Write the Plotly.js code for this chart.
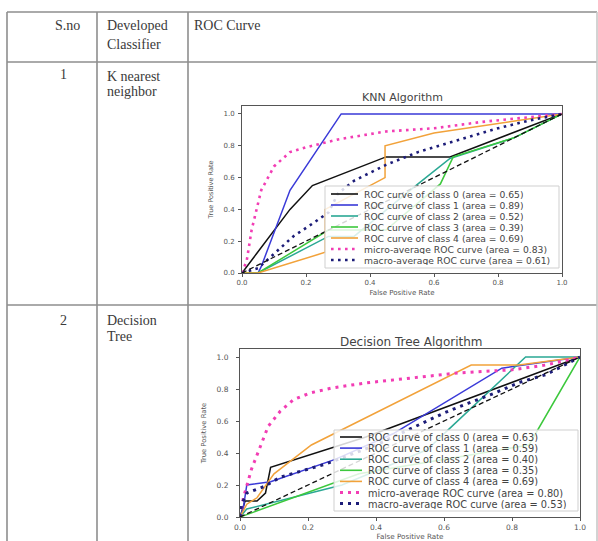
<!DOCTYPE html>
<html>
<head>
<meta charset="utf-8">
<script src="https://cdn.plot.ly/plotly-3.0.1.min.js"></script>
<style>html,body{margin:0;padding:0;background:#fff;}#chart{width:598px;height:541px;}</style>
</head>
<body>
<div id="chart"></div>
<script>
// ---------------- DATA ----------------
const tableHeaders = ["S.no", "Developed", "Classifier", "ROC Curve"];
const rowNumbers = ["1", "2"];
const rowClassifierLines = [["K nearest", "neighbor"], ["Decision", "Tree"]];
const plotTitles = ["KNN Algorithm", "Decision Tree Algorithm"];
const xAxisTitle = "False Positive Rate";
const yAxisTitle = "True Positive Rate";
const tickValues = [0, 0.2, 0.4, 0.6, 0.8, 1.0];

const seriesNames = ["ROC curve of class 0", "ROC curve of class 1", "ROC curve of class 2",
  "ROC curve of class 3", "ROC curve of class 4", "micro-average ROC curve", "macro-average ROC curve"];
const knnAreas = ["0.65", "0.89", "0.52", "0.39", "0.69", "0.83", "0.61"];
const dtAreas  = ["0.63", "0.59", "0.40", "0.35", "0.69", "0.80", "0.53"];

// KNN curves
const knnC0x = [0, 0.15, 0.22, 0.45, 0.65, 1.0];
const knnC0y = [0, 0.40, 0.55, 0.73, 0.73, 1.0];
const knnC1x = [0, 0.05, 0.06, 0.15, 0.31, 1.0];
const knnC1y = [0, 0.00, 0.04, 0.52, 1.00, 1.0];
const knnC2x = [0, 0.05, 0.27, 0.35, 0.55, 0.65, 0.85, 1.0];
const knnC2y = [0, 0.00, 0.23, 0.23, 0.56, 0.72, 0.85, 1.0];
const knnC3x = [0, 0.05, 0.27, 0.45, 0.62, 0.66, 0.85, 1.0];
const knnC3y = [0, 0.00, 0.27, 0.27, 0.56, 0.73, 0.85, 1.0];
const knnC4x = [0, 0.05, 0.26, 0.26, 0.447, 0.447, 0.60, 1.0];
const knnC4y = [0, 0.00, 0.13, 0.40, 0.60, 0.80, 0.88, 1.0];
const knnMicroX = [0, 0.015, 0.03, 0.06, 0.10, 0.15, 0.20, 0.30, 0.45, 0.60, 0.75, 0.90, 1.0];
const knnMicroY = [0, 0.08, 0.27, 0.52, 0.67, 0.76, 0.79, 0.84, 0.89, 0.91, 0.95, 0.98, 1.0];
const knnMacroX = [0, 0.05, 0.10, 0.16, 0.22, 0.27, 0.30, 0.35, 0.45, 0.55, 0.65, 0.80, 0.90, 1.0];
const knnMacroY = [0, 0.03, 0.12, 0.23, 0.31, 0.38, 0.50, 0.58, 0.68, 0.76, 0.82, 0.91, 0.96, 1.0];

// Decision tree curves
const dtC0x = [0, 0.015, 0.05, 0.075, 0.09, 0.37, 1.0];
const dtC0y = [0, 0.10, 0.10, 0.15, 0.31, 0.50, 1.0];
const dtC1x = [0, 0.01, 0.02, 0.09, 0.28, 0.45, 0.77, 1.0];
const dtC1y = [0, 0.06, 0.20, 0.22, 0.36, 0.52, 0.93, 1.0];
const dtC2x = [0, 0.02, 0.30, 0.55, 0.62, 0.84, 1.0];
const dtC2y = [0, 0.05, 0.20, 0.42, 0.56, 1.00, 1.0];
const dtC3x = [0, 0.35, 0.85, 1.0];
const dtC3y = [0, 0.27, 0.45, 1.0];
const dtC4x = [0, 0.02, 0.05, 0.10, 0.21, 0.68, 0.82, 1.0];
const dtC4y = [0, 0.08, 0.12, 0.27, 0.45, 0.95, 0.95, 1.0];
const dtMicroX = [0, 0.01, 0.034, 0.059, 0.083, 0.118, 0.157, 0.206, 0.27, 0.37, 0.51, 0.64, 0.80, 0.90, 1.0];
const dtMicroY = [0, 0.12, 0.30, 0.44, 0.567, 0.66, 0.733, 0.775, 0.806, 0.838, 0.87, 0.90, 0.92, 0.95, 1.0];
const dtMacroX = [0, 0.005, 0.02, 0.07, 0.12, 0.20, 0.25, 0.40, 0.53, 0.60, 0.67, 0.75, 0.82, 0.90, 1.0];
const dtMacroY = [0, 0.08, 0.15, 0.19, 0.25, 0.30, 0.33, 0.45, 0.58, 0.65, 0.71, 0.775, 0.84, 0.89, 1.0];

const diagX = [0, 1];
const diagY = [0, 1];

// ---------------- STYLE ----------------
const W = 598, H = 541;
const px = v => v / W;
const py = v => 1 - v / H;
const colors = ["#111111", "#3a3ad8", "#2aa894", "#3cc83c", "#f2a23a", "#f23db4", "#1c1c78"];
const FONT = "DejaVu Sans";
const SERIF = "Liberation Serif, Times New Roman, serif";

const knnSets = [[knnC0x, knnC0y], [knnC1x, knnC1y], [knnC2x, knnC2y], [knnC3x, knnC3y], [knnC4x, knnC4y], [knnMicroX, knnMicroY], [knnMacroX, knnMacroY]];
const dtSets = [[dtC0x, dtC0y], [dtC1x, dtC1y], [dtC2x, dtC2y], [dtC3x, dtC3y], [dtC4x, dtC4y], [dtMicroX, dtMicroY], [dtMacroX, dtMacroY]];

function buildTraces(sets, xa, ya, dotW, dotDash) {
  const tr = [];
  sets.forEach((s, i) => {
    const dotted = i >= 5;
    tr.push({
      type: "scatter", mode: "lines", x: s[0], y: s[1], xaxis: xa, yaxis: ya,
      hoverinfo: "skip",
      line: dotted ? {color: colors[i], width: dotW, dash: dotDash} : {color: colors[i], width: 1.5}
    });
  });
  tr.push({type: "scatter", mode: "lines", x: diagX, y: diagY, xaxis: xa, yaxis: ya, hoverinfo: "skip",
    line: {color: "#111", width: 1.3, dash: "5px,3px"}});
  return tr;
}

const traces = buildTraces(knnSets, "x", "y", 2.6, "2.6px,4.4px")
  .concat(buildTraces(dtSets, "x2", "y2", 3, "3px,5px"));

function axisCommon(tfs) {
  return {
    range: [0, 1], tickvals: tickValues, tickformat: ".1f", ticks: "outside", ticklen: 3,
    tickwidth: 1, tickcolor: "#555", showline: true, mirror: true, linecolor: "#555", linewidth: 1,
    showgrid: false, zeroline: false, fixedrange: true,
    tickfont: {family: FONT, size: tfs, color: "#555"}
  };
}

const layout = {
  width: W, height: H, margin: {l: 0, r: 0, t: 0, b: 0},
  paper_bgcolor: "#fff", plot_bgcolor: "#fff", showlegend: false,
  xaxis: Object.assign(axisCommon(7), {domain: [px(242), px(562)], anchor: "y",
    title: {text: xAxisTitle, font: {family: FONT, size: 7, color: "#555"}, standoff: 3}}),
  yaxis: Object.assign(axisCommon(7), {domain: [py(273), py(106)], anchor: "x", range: [0, 1.05],
    ticklabelstandoff: 2,
    title: {text: yAxisTitle, font: {family: FONT, size: 6.5, color: "#555"}, standoff: 9}}),
  xaxis2: Object.assign(axisCommon(7.5), {domain: [px(240), px(580)], anchor: "y2",
    title: {text: xAxisTitle, font: {family: FONT, size: 7.2, color: "#555"}, standoff: 3}}),
  yaxis2: Object.assign(axisCommon(7.5), {domain: [py(517), py(349)], anchor: "x2", range: [0, 1.05],
    ticklabelstandoff: 6,
    title: {text: yAxisTitle, font: {family: FONT, size: 6.8, color: "#555"}, standoff: 9}}),
  shapes: [], annotations: []
};

// table lines
const lineCol = "#8e8e8e";
function hline(y) { layout.shapes.push({type: "line", xref: "paper", yref: "paper", x0: px(7), x1: px(597), y0: py(y), y1: py(y), line: {color: lineCol, width: 1.6}, layer: "above"}); }
function vline(x, c) { layout.shapes.push({type: "line", xref: "paper", yref: "paper", x0: px(x), x1: px(x), y0: py(12), y1: py(541), line: {color: c || lineCol, width: 1.6}, layer: "above"}); }
[12, 62, 305].forEach(hline);
[7, 97, 188].forEach(x => vline(x));
vline(597, "#c8c8c8");

function txt(t, x, y, size, opts) {
  layout.annotations.push(Object.assign({text: t, xref: "paper", yref: "paper", x: px(x), y: py(y),
    showarrow: false, xanchor: "left", yanchor: "middle",
    font: {family: SERIF, size: size, color: "#3a3a3a"}}, opts || {}));
}
// table header
txt(tableHeaders[0], 67, 25, 14, {xanchor: "center"});
txt(tableHeaders[1], 105, 25, 14);
txt(tableHeaders[2], 105, 45, 14);
txt(tableHeaders[3], 192, 25, 14);
// rows
txt(rowNumbers[0], 63, 75, 14, {xanchor: "center"});
txt(rowClassifierLines[0][0], 105, 76, 14);
txt(rowClassifierLines[0][1], 105, 91, 14);
txt(rowNumbers[1], 63, 320, 14, {xanchor: "center"});
txt(rowClassifierLines[1][0], 105, 320, 14);
txt(rowClassifierLines[1][1], 105, 336, 14);

// subplot titles
txt(plotTitles[0], 402, 98, 11, {xanchor: "center", font: {family: FONT, size: 11, color: "#444"}});
txt(plotTitles[1], 411, 342, 12, {xanchor: "center", font: {family: FONT, size: 12, color: "#444"}});

// custom legends
function legend(box, rowY0, rowStep, hx0, hx1, tx, fs, areas, dotW, dotDash) {
  layout.shapes.push({type: "rect", xref: "paper", yref: "paper", x0: px(box[0]), x1: px(box[1]), y0: py(box[3]), y1: py(box[2]),
    fillcolor: "rgba(255,255,255,0.82)", line: {color: "#cfcfcf", width: 1}, layer: "above"});
  seriesNames.forEach((n, i) => {
    const y = rowY0 + rowStep * i;
    const dotted = i >= 5;
    layout.shapes.push({type: "line", xref: "paper", yref: "paper", x0: px(hx0), x1: px(hx1), y0: py(y), y1: py(y),
      line: dotted ? {color: colors[i], width: dotW, dash: dotDash} : {color: colors[i], width: 1.6}, layer: "above"});
    txt(n + " (area = " + areas[i] + ")", tx, y, fs, {height: rowStep - 1, valign: "middle",
      font: {family: FONT, size: fs, color: "#444"}});
  });
}
legend([325, 559, 186, 268], 194, 11, 331, 358, 362, 9.2, knnAreas, 2.6, "2.6px,4.4px");
legend([334, 578, 430, 511], 437, 11.1, 340, 362, 366, 9.8, dtAreas, 3, "3px,5px");

Plotly.newPlot("chart", traces, layout, {staticPlot: true, displayModeBar: false});
</script>
</body>
</html>
